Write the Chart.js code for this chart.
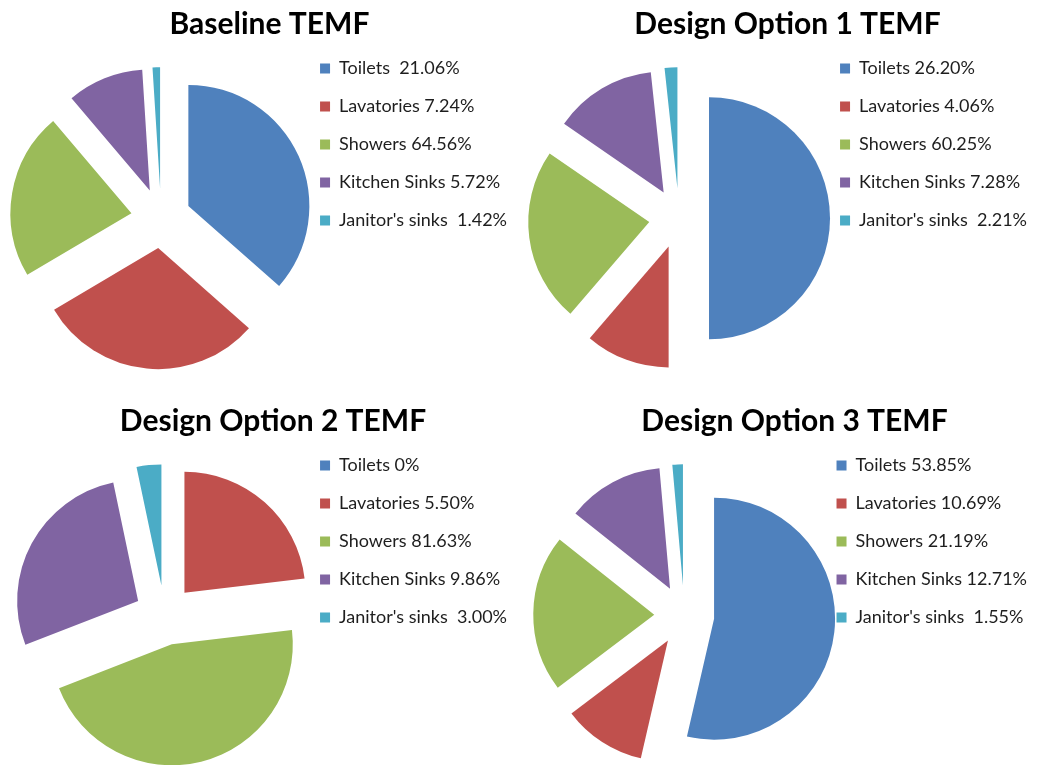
<!DOCTYPE html>
<html>
<head>
<meta charset="utf-8">
<script src="https://cdn.jsdelivr.net/npm/chart.js@4.4.1/dist/chart.umd.min.js"></script>
<style>
  html, body { margin: 0; padding: 0; background: #fff; overflow: hidden; }
  body { width: 1041px; height: 765px; position: relative; }
  .panel { position: absolute; width: 520px; height: 400px; }
</style>
</head>
<body>
<div class="panel" style="left:0;top:0"><canvas id="pieBaseline"></canvas></div>
<div class="panel" style="left:520px;top:0"><canvas id="pieOption1"></canvas></div>
<div class="panel" style="left:0;top:397px"><canvas id="pieOption2"></canvas></div>
<div class="panel" style="left:520px;top:397px"><canvas id="pieOption3"></canvas></div>
<script>
var categories = ['Toilets', 'Lavatories', 'Showers', 'Kitchen Sinks', "Janitor's sinks"];
var sliceColors = ['#4F81BD', '#C0504D', '#9BBB59', '#8064A2', '#4BACC6'];

// legend texts as printed on the original
var baselineLabels = ['Toilets  21.06%', 'Lavatories 7.24%', 'Showers 64.56%', 'Kitchen Sinks 5.72%', "Janitor's sinks  1.42%"];
var option1Labels = ['Toilets 26.20%', 'Lavatories 4.06%', 'Showers 60.25%', 'Kitchen Sinks 7.28%', "Janitor's sinks  2.21%"];
var option2Labels = ['Toilets 0%', 'Lavatories 5.50%', 'Showers 81.63%', 'Kitchen Sinks 9.86%', "Janitor's sinks  3.00%"];
var option3Labels = ['Toilets 53.85%', 'Lavatories 10.69%', 'Showers 21.19%', 'Kitchen Sinks 12.71%', "Janitor's sinks  1.55%"];

// slice shares as they are drawn
var baselineShare = [36.5, 30.0, 22.3, 10.2, 1.0];
var option1Share = [50.0, 11.3, 23.3, 13.7, 1.7];
var option2Share = [0, 23.1, 46.0, 27.6, 3.3];
var option3Share = [53.6, 11.1, 21.0, 12.9, 1.4];

var FONT = 'Lato, "Open Sans", sans-serif';

// exploded pie: push every arc out along its middle angle
var explodePlugin = {
  id: 'explode',
  beforeDatasetDraw: function(chart, args, opts) {
    var ctx = chart.ctx;
    var d = opts.distance || 0;
    args.meta.data.forEach(function(arc) {
      var mid = (arc.startAngle + arc.endAngle) / 2;
      ctx.save();
      ctx.translate(Math.cos(mid) * d, Math.sin(mid) * d);
      arc.draw(ctx);
      ctx.restore();
    });
    return false;
  }
};

function makePie(canvasId, title, labels, values, padLeft) {
  var el = document.getElementById(canvasId);
  return new Chart(el, {
    type: 'pie',
    data: {
      labels: labels,
      datasets: [{
        data: values,
        backgroundColor: sliceColors,
        borderWidth: 0,
        radius: 121
      }]
    },
    plugins: [explodePlugin],
    options: {
      responsive: true,
      maintainAspectRatio: false,
      animation: false,
      layout: { padding: { left: padLeft, right: 3, top: 0, bottom: 3 } },
      plugins: {
        explode: { distance: 30 },
        tooltip: { enabled: false },
        title: {
          display: true,
          text: title,
          color: '#000',
          font: { family: FONT, size: 30, weight: 'bold', lineHeight: 1 },
          padding: { top: 9.5, bottom: 0 }
        },
        legend: {
          position: 'right',
          align: 'start',
          fullSize: false,
          labels: {
            color: '#1e1e1e',
            font: { family: FONT, size: 18 },
            boxWidth: 10,
            boxHeight: 10,
            padding: 20
          }
        }
      }
    }
  });
}

makePie('pieBaseline', 'Baseline TEMF', baselineLabels, baselineShare, 22);
makePie('pieOption1', 'Design Option 1 TEMF', option1Labels, option1Share, 18);
makePie('pieOption2', 'Design Option 2 TEMF', option2Labels, option2Share, 29);
makePie('pieOption3', 'Design Option 3 TEMF', option3Labels, option3Share, 32);
</script>
</body>
</html>
